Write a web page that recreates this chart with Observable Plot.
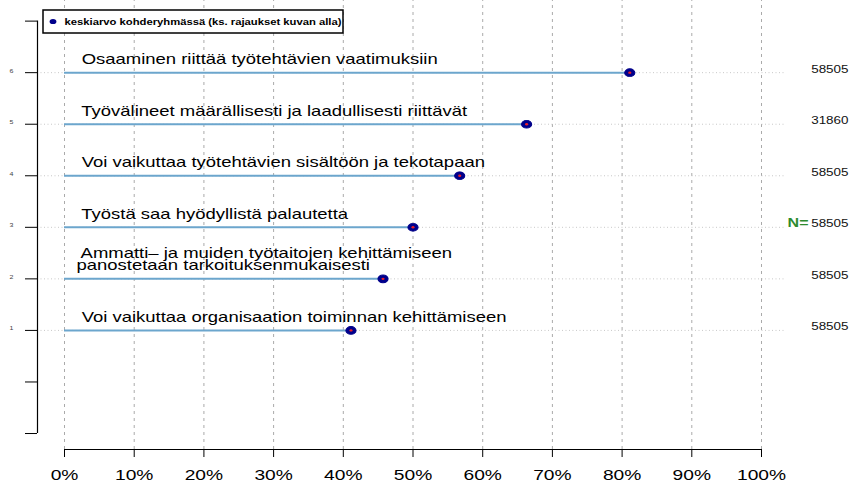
<!DOCTYPE html>
<html><head><meta charset="utf-8">
<script src="https://cdn.jsdelivr.net/npm/d3@7"></script>
<script src="https://cdn.jsdelivr.net/npm/@observablehq/plot@0.6"></script>
<style>
body{margin:0;background:#fff;}
#chart svg{display:block;}
#chart svg text{white-space:pre;}
</style></head><body><div id="chart"></div>
<script>
const labels = [
  " Osaaminen riittää työtehtävien vaatimuksiin",
  " Työvälineet määrällisesti ja laadullisesti riittävät",
  " Voi vaikuttaa työtehtävien sisältöön ja tekotapaan",
  " Työstä saa hyödyllistä palautetta",
  " Ammatti– ja muiden työtaitojen kehittämiseen\npanostetaan tarkoituksenmukaisesti",
  " Voi vaikuttaa organisaation toiminnan kehittämiseen"
];
const rows = [6, 5, 4, 3, 2, 1];
const means = [81.1, 66.3, 56.7, 50.0, 45.7, 41.1];
const counts = [58505, 31860, 58505, 58505, 58505, 58505];
const xTicks = [0, 10, 20, 30, 40, 50, 60, 70, 80, 90, 100];
const yTicks = [-1, 0, 1, 2, 3, 4, 5, 6, 7];
const yLabelled = [1, 2, 3, 4, 5, 6];
const legendLabel = "keskiarvo kohderyhmässä (ks. rajaukset kuvan alla)";
const nLabel = "N=";
const nLabelRow = 3;

const data = rows.map((r, i) => ({row: r, mean: means[i], n: counts[i], label: labels[i]}));

const xMin = -3.875, xMax = 100;
const yMin = -1.31, yMax = 7.4;

const plot = Plot.plot({
  width: 850,
  height: 486,
  marginLeft: 37,
  marginRight: 89,
  marginTop: 0,
  marginBottom: 37,
  style: {fontFamily: "'Liberation Sans', Arial, sans-serif", background: "#fff", color: "#000"},
  x: {domain: [xMin, xMax], axis: null, label: null},
  y: {domain: [yMin, yMax], axis: null, label: null},
  marks: [
    Plot.ruleX(xTicks, {y1: yMin, y2: yMax, stroke: "#aaaaaa", strokeWidth: 1, strokeDasharray: "3,4"}),
    Plot.ruleY(yLabelled, {x1: xMin, x2: 103.4, stroke: "#c8c8c8", strokeWidth: 1, strokeDasharray: "1,2.5"}),
    Plot.ruleX([xMin], {y1: -1, y2: 7, stroke: "#000", strokeWidth: 1.2}),
    Plot.axisY({ticks: yTicks, anchor: "left", label: null, tickSize: 12, tickPadding: 12, fontSize: 5.5, fill: "#444",
      tickFormat: d => (d >= 1 && d <= 6) ? String(d) : ""}),
    Plot.ruleY([yMin], {x1: 0, x2: 100, stroke: "#000", strokeWidth: 1.2}),
    Plot.axisX({ticks: xTicks, anchor: "bottom", label: null, tickSize: 8, tickPadding: 22, fontSize: 15,
      tickFormat: d => d + "%"}),
    Plot.ruleY(data, {y: "row", x1: 0, x2: "mean", stroke: "#6ca6cd", strokeWidth: 2}),
    Plot.dot(data, {x: "mean", y: "row", r: 3.9, fill: "#00008b", stroke: "#00008b", strokeWidth: 0.8}),
    Plot.dot(data, {x: "mean", y: "row", r: 1.2, fill: "#e8202a", stroke: null}),
    Plot.text(data, {x: 0, y: "row", text: "label", textAnchor: "start", lineAnchor: "bottom",
      dx: 12, dy: -8.5, fontSize: 14, lineHeight: 0.9, fill: "#000", className: "wide"}),
    Plot.text(data, {x: xMax, y: "row", text: d => String(d.n), textAnchor: "end", lineAnchor: "middle",
      dx: 87, fontSize: 10.5, fill: "#111"}),
    Plot.text([nLabel], {x: xMax, y: [nLabelRow], text: d => d, textAnchor: "end", lineAnchor: "middle",
      dx: 47, fontSize: 12.5, fontWeight: "bold", fill: "#2e8b2e"})
  ]
});

// legend drawn inside the svg
const svg = d3.select(plot);
const lg = svg.append("g").attr("class", "legend");
lg.append("rect").attr("x", 43).attr("y", 10).attr("width", 300).attr("height", 23)
  .attr("fill", "#fff").attr("stroke", "#000").attr("stroke-width", 1.5);
lg.append("circle").attr("cx", 53).attr("cy", 21.5).attr("r", 2.6).attr("fill", "#00008b");
lg.append("text").attr("x", 64.5).attr("y", 21.5).attr("dy", "0.35em").attr("text-anchor", "start")
  .attr("font-size", 8.8).attr("font-weight", "bold").attr("fill", "#000")
  .attr("font-family", "'Liberation Sans', Arial, sans-serif").text(legendLabel);

// horizontal stretch of the original raster: widen texts and dots about their anchors
plot.querySelectorAll("text").forEach(t => {
  const s = t.closest(".wide") ? 1.32 : 1.28;
  const x = +t.getAttribute("x") || 0, y = +t.getAttribute("y") || 0;
  t.removeAttribute("x"); t.removeAttribute("y");
  const tr = t.getAttribute("transform") || "";
  t.setAttribute("transform", `${tr} translate(${x},${y}) scale(${s},1)`);
});
plot.querySelectorAll("circle").forEach(c => {
  const cx = +c.getAttribute("cx") || 0, cy = +c.getAttribute("cy") || 0;
  c.setAttribute("cx", 0); c.setAttribute("cy", 0);
  const tr = c.getAttribute("transform") || "";
  c.setAttribute("transform", `${tr} translate(${cx},${cy}) scale(1.3,1)`);
});

document.getElementById("chart").appendChild(plot);
</script></body></html>
